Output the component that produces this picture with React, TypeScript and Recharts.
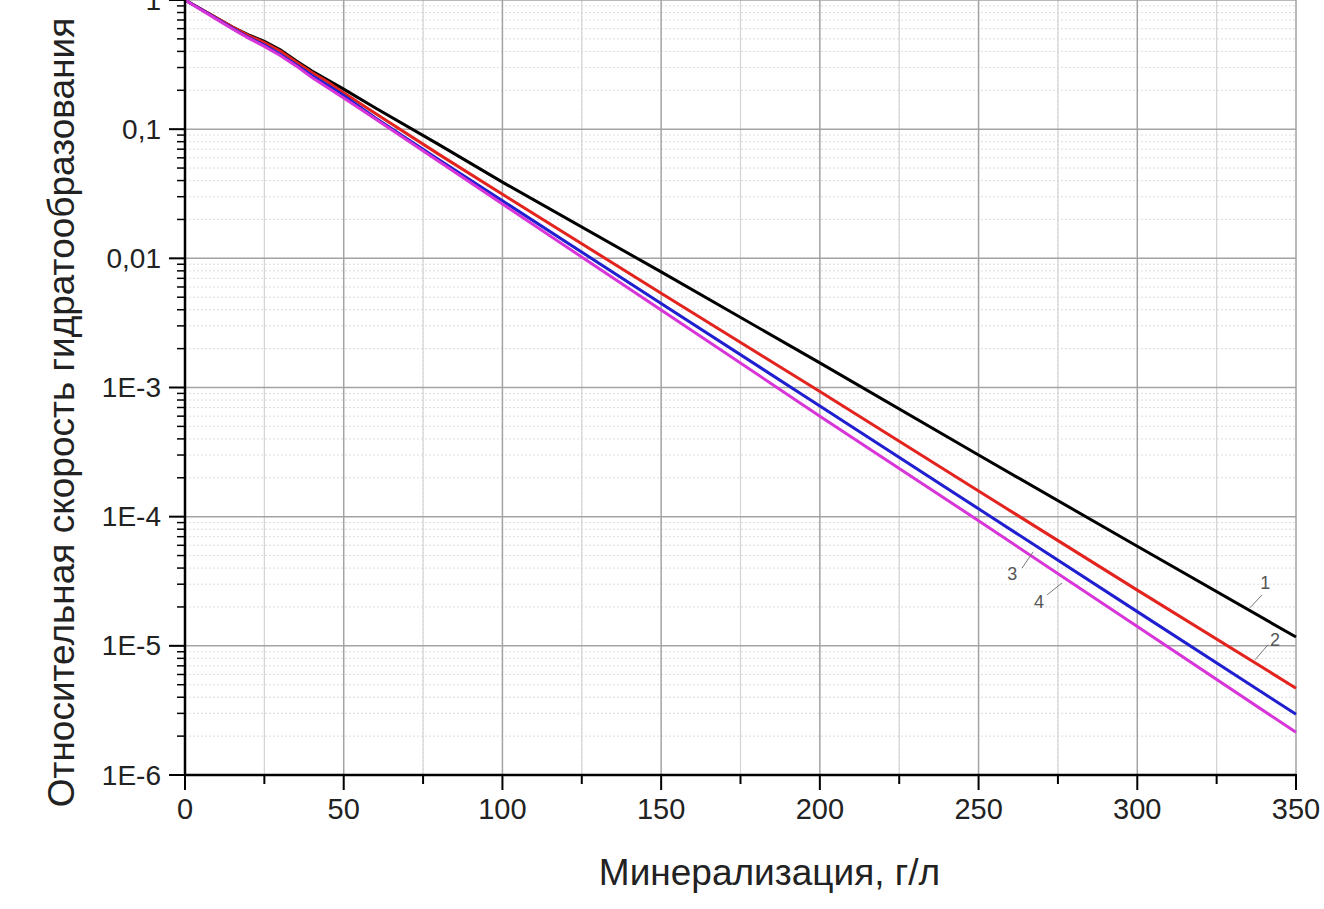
import React from "react";
import {
  LineChart,
  Line,
  XAxis,
  YAxis,
  CartesianGrid,
  ReferenceLine,
  ReferenceDot,
} from "recharts";

// mineralization, g/l
const mineralization = [0, 5, 10, 15, 20, 25, 30, 35, 40, 45, 50, 60, 80, 100, 150, 200, 250, 300, 350];

// relative hydrate formation rate, curves 1..4
const curve1 = [1, 0.851, 0.724, 0.617, 0.537, 0.479, 0.412, 0.339, 0.282, 0.24, 0.204, 0.146, 0.0759, 0.0389, 0.00785, 0.00155, 3.0e-4, 5.9e-5, 1.17e-5];
const curve2 = [1, 0.851, 0.724, 0.617, 0.531, 0.468, 0.403, 0.331, 0.275, 0.232, 0.191, 0.132, 0.0638, 0.0313, 0.00537, 9.3e-4, 1.58e-4, 2.7e-5, 4.7e-6];
const curve3 = [1, 0.847, 0.716, 0.603, 0.513, 0.447, 0.38, 0.316, 0.26, 0.219, 0.182, 0.122, 0.0579, 0.0279, 0.00447, 7.2e-4, 1.15e-4, 1.84e-5, 2.95e-6];
const curve4 = [1, 0.841, 0.708, 0.596, 0.507, 0.437, 0.372, 0.309, 0.251, 0.209, 0.174, 0.12, 0.0562, 0.0263, 0.00398, 6.0e-4, 9.3e-5, 1.41e-5, 2.14e-6];

const xMajorTicks = [0, 50, 100, 150, 200, 250, 300, 350];
const xMinorTicks = [25, 75, 125, 175, 225, 275, 325];
const yDecades = [1e-6, 1e-5, 1e-4, 1e-3, 0.01, 0.1, 1];
const yDecadeLabels = ["1E-6", "1E-5", "1E-4", "1E-3", "0,01", "0,1", "1"];
const yMinorSteps = [2, 3, 4, 5, 6, 7, 8, 9];

// curve numbers with their leader lines (data coordinates)
const curveLabels = [
  { text: "1", x: 340.3, y: 3.07e-5, from: [335.5, 1.97e-5], to: [339.3, 2.48e-5] },
  { text: "2", x: 343.4, y: 1.11e-5, from: [337.1, 7.8e-6], to: [341.2, 1.02e-5] },
  { text: "3", x: 260.6, y: 3.6e-5, from: [263.7, 4.0e-5], to: [267.2, 5.34e-5] },
  { text: "4", x: 269.0, y: 2.2e-5, from: [271.6, 2.48e-5], to: [276.3, 3.07e-5] },
];

const data = mineralization.map((m, i) => ({
  m,
  c1: curve1[i],
  c2: curve2[i],
  c3: curve3[i],
  c4: curve4[i],
}));

const yMinorValues = yDecades
  .slice(0, -1)
  .flatMap((d) => yMinorSteps.map((s) => Number((d * s).toPrecision(3))));

const FONT = "'Liberation Sans', Arial, sans-serif";
const TEXT = "#222";

const XTick = (props: any) => {
  const { x, y, payload } = props;
  const major = payload.value % 50 === 0;
  return (
    <g>
      <line x1={x} x2={x} y1={y - 1} y2={y + (major ? 15 : 9)} stroke="#000" strokeWidth={2} />
      {major && (
        <text x={x} y={y + 34} textAnchor="middle" dominantBaseline="central" fontSize={29} fontFamily={FONT} fill={TEXT}>
          {payload.value}
        </text>
      )}
    </g>
  );
};

const YTick = (props: any) => {
  const { x, y, payload } = props;
  const idx = yDecades.findIndex((d) => Math.abs(d - payload.value) < d * 1e-6);
  const major = idx >= 0;
  return (
    <g>
      <line x1={x - (major ? 16 : 8)} x2={x} y1={y} y2={y} stroke="#000" strokeWidth={major ? 2 : 1.5} />
      {major && (
        <text x={x - 24} y={y} textAnchor="end" dominantBaseline="central" fontSize={28} fontFamily={FONT} fill={TEXT}>
          {yDecadeLabels[idx]}
        </text>
      )}
    </g>
  );
};

const YTitle = (props: any) => {
  const vb = props.viewBox;
  const cx = vb.x + 74;
  const cy = vb.y + vb.height / 2 + 25;
  return (
    <text
      x={cx}
      y={cy}
      transform={`rotate(-90, ${cx}, ${cy})`}
      textAnchor="middle"
      fontSize={37}
      fontFamily={FONT}
      fill={TEXT}
    >
      Относительная скорость гидратообразования
    </text>
  );
};

const XTitle = (props: any) => {
  const vb = props.viewBox;
  const cx = vb.x + vb.width / 2 + 29;
  const cy = vb.y + 110;
  return (
    <text x={cx} y={cy} textAnchor="middle" fontSize={37} fontFamily={FONT} fill={TEXT}>
      Минерализация, г/л
    </text>
  );
};

const App = () => {
  return (
    <div style={{ position: "absolute", left: 0, top: 0, background: "#fff" }}>
      <LineChart
        width={1324}
        height={909}
        data={data}
        margin={{ top: 0, right: 28, left: 0, bottom: 0 }}
      >
        <CartesianGrid
          horizontalValues={yMinorValues}
          verticalValues={xMinorTicks}
          stroke="#dcdcdc"
          strokeDasharray="2 2"
          strokeWidth={1}
        />
        <CartesianGrid
          horizontal={false}
          verticalValues={xMinorTicks}
          stroke="#d4d4d4"
          strokeWidth={1.2}
        />
        <CartesianGrid
          horizontalValues={yDecades}
          verticalValues={xMajorTicks}
          stroke="#a3a3a3"
          strokeWidth={1.5}
        />
        <XAxis
          dataKey="m"
          type="number"
          domain={[0, 350]}
          ticks={[...xMajorTicks, ...xMinorTicks].sort((a, b) => a - b)}
          interval={0}
          height={134}
          tickSize={0}
          tickMargin={0}
          tick={<XTick />}
          axisLine={{ stroke: "#000", strokeWidth: 2.5 }}
          label={<XTitle />}
        />
        <YAxis
          scale="log"
          type="number"
          domain={[1e-6, 1]}
          ticks={[...yDecades, ...yMinorValues].sort((a, b) => a - b)}
          interval={0}
          allowDataOverflow
          width={185}
          tickSize={0}
          tickMargin={0}
          tick={<YTick />}
          axisLine={{ stroke: "#000", strokeWidth: 2.5 }}
          label={<YTitle />}
        />
        <Line dataKey="c1" stroke="#000000" strokeWidth={3} dot={false} isAnimationActive={false} />
        <Line dataKey="c2" stroke="#e3231e" strokeWidth={3} dot={false} isAnimationActive={false} />
        <Line dataKey="c3" stroke="#1f1fcf" strokeWidth={3} dot={false} isAnimationActive={false} />
        <Line dataKey="c4" stroke="#d835d8" strokeWidth={3} dot={false} isAnimationActive={false} />
        {curveLabels.map((c) => (
          <ReferenceLine
            key={`l${c.text}`}
            segment={[
              { x: c.from[0], y: c.from[1] },
              { x: c.to[0], y: c.to[1] },
            ]}
            stroke="#777"
            strokeWidth={1}
          />
        ))}
        {curveLabels.map((c) => (
          <ReferenceDot
            key={`t${c.text}`}
            x={c.x}
            y={c.y}
            r={0}
            fill="none"
            stroke="none"
            label={{ value: c.text, position: "center", fontSize: 18, fill: "#555", fontFamily: FONT }}
          />
        ))}
      </LineChart>
    </div>
  );
};

export default App;
